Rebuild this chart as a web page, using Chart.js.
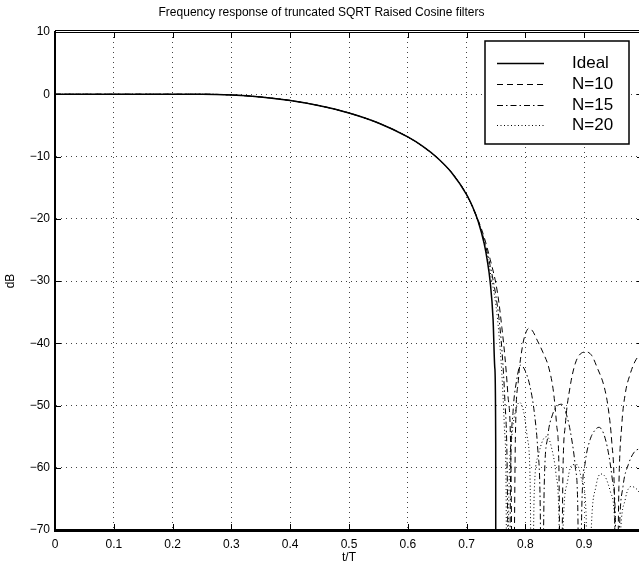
<!DOCTYPE html>
<html>
<head>
<meta charset="utf-8">
<script src="https://cdn.jsdelivr.net/npm/chart.js@4.4.1/dist/chart.umd.min.js"></script>
<style>
  html, body { margin: 0; padding: 0; background: #fff; overflow: hidden; }
  #wrap { width: 700px; height: 567px; }
</style>
</head>
<body>
<div id="wrap"><canvas id="freqChart" width="700" height="567"></canvas></div>
<script>
// passband, shared by all four curves (dB)
const passX = [0, 0.1, 0.2, 0.25, 0.3, 0.35, 0.4, 0.45, 0.5, 0.55, 0.6, 0.625, 0.65, 0.675, 0.7];
const passDb = [0, 0, 0, 0, -0.11, -0.44, -1.0, -1.84, -3.01, -4.62, -6.86, -8.34, -10.2, -12.64, -16.11];

// transition band / stopband of each curve
const idealX = [0.71, 0.72, 0.73, 0.735, 0.74, 0.745, 0.748, 0.7495, 0.75];
const idealDb = [-18.04, -20.53, -24.04, -26.6, -30.06, -36.08, -44.0, -56.1, -200];

const n10X = [0.72, 0.73, 0.74, 0.75, 0.755, 0.76, 0.765, 0.77, 0.775, 0.779, 0.783, 0.788, 0.795, 0.8, 0.806,
  0.812, 0.82, 0.83, 0.84, 0.848, 0.853, 0.857, 0.86, 0.864, 0.868, 0.876, 0.885, 0.895, 0.904, 0.913, 0.922,
  0.934, 0.941, 0.947, 0.951, 0.955, 0.959, 0.964, 0.97, 0.978, 0.986, 0.995, 1.0];
const n10Db = [-20.3, -23, -26.5, -30.5, -33.5, -37.5, -42, -48, -57, -90, -55, -46, -40.5, -38.5, -37.6,
  -38, -39.5, -41.5, -44, -48, -53, -60, -90, -60, -53, -47, -43.2, -41.6, -41.4, -42, -43.9,
  -47, -50.5, -56, -63, -90, -63, -53, -48, -45, -43, -41.8, -41.5];

const n15X = [0.72, 0.73, 0.74, 0.75, 0.755, 0.76, 0.765, 0.769, 0.772, 0.775, 0.779, 0.785, 0.792, 0.8, 0.808,
  0.815, 0.821, 0.825, 0.828, 0.832, 0.838, 0.846, 0.855, 0.862, 0.87, 0.878, 0.885, 0.889, 0.892, 0.896, 0.902,
  0.91, 0.918, 0.925, 0.933, 0.941, 0.948, 0.953, 0.956, 0.96, 0.966, 0.975, 0.985, 0.995, 1.0];
const n15Db = [-20.5, -23.5, -27.5, -32.5, -36, -41, -49, -60, -90, -60, -51, -46, -43.5, -44.5, -47,
  -51, -57, -65, -90, -63, -55, -51.5, -50, -49.8, -51.5, -55, -60, -66, -90, -66, -59,
  -55.5, -54, -53.5, -54.5, -57.5, -62, -68, -90, -70, -63, -59.5, -57.5, -57, -57];

const n20X = [0.72, 0.73, 0.74, 0.75, 0.755, 0.76, 0.764, 0.767, 0.769, 0.772, 0.777, 0.783, 0.79, 0.797, 0.803,
  0.808, 0.811, 0.815, 0.822, 0.83, 0.837, 0.845, 0.852, 0.857, 0.86, 0.864, 0.872, 0.88, 0.888, 0.896, 0.903,
  0.907, 0.912, 0.92, 0.928, 0.936, 0.945, 0.952, 0.956, 0.961, 0.97, 0.98, 0.99, 1.0];
const n20Db = [-20.5, -23.8, -28.5, -34, -38.5, -45, -53, -62, -90, -64, -55, -51, -49.5, -51, -55,
  -62, -90, -64, -58, -55.5, -55, -57, -61, -68, -90, -70, -62, -59.5, -59.5, -62, -67,
  -90, -70, -63, -61, -61.5, -64, -69, -90, -72, -65, -63, -63.5, -65];

const seriesNames = ["Ideal", "N=10", "N=15", "N=20"];
const titleText = "Frequency response of truncated SQRT Raised Cosine filters";

const FONT = "'Liberation Sans', Arial, sans-serif";
Chart.defaults.font.family = FONT;
Chart.defaults.color = "#000";

const toPoints = (xs, ys) => xs.map((x, i) => ({ x: x, y: ys[i] }));

const lineStyle = (label, xs, ys, dash, width) => ({
  label: label,
  data: toPoints(passX.concat(xs), passDb.concat(ys)),
  borderColor: "#000",
  borderWidth: width,
  borderDash: dash,
  pointRadius: 0,
  fill: false,
  cubicInterpolationMode: "monotone",
});

// box, inward ticks and legend, the matlab way
const frameAndLegend = {
  id: "frameAndLegend",
  afterDraw(chart) {
    const { ctx, chartArea: area, scales } = chart;
    ctx.save();
    ctx.strokeStyle = "#000";
    ctx.setLineDash([]);

    // top border
    ctx.lineWidth = 1;
    ctx.beginPath();
    ctx.moveTo(area.left, area.top - 1.5);
    ctx.lineTo(area.right, area.top - 1.5);
    ctx.moveTo(area.left, area.top + 0.5);
    ctx.lineTo(area.right, area.top + 0.5);
    ctx.stroke();

    // ticks pointing into the plot
    ctx.beginPath();
    scales.x.ticks.forEach((t) => {
      const px = Math.round(scales.x.getPixelForValue(t.value)) + 0.5;
      ctx.moveTo(px, area.bottom);
      ctx.lineTo(px, area.bottom - 6);
      ctx.moveTo(px, area.top);
      ctx.lineTo(px, area.top + 6);
    });
    scales.y.ticks.forEach((t) => {
      const py = Math.round(scales.y.getPixelForValue(t.value)) + 0.5;
      ctx.moveTo(area.left, py);
      ctx.lineTo(area.left + 6, py);
      ctx.moveTo(area.right, py);
      ctx.lineTo(area.right - 6, py);
    });
    ctx.stroke();

    // legend
    const box = { x: 485, y: 41, w: 144, h: 103 };
    ctx.fillStyle = "#fff";
    ctx.fillRect(box.x, box.y, box.w, box.h);
    ctx.lineWidth = 1.5;
    ctx.strokeRect(box.x, box.y, box.w, box.h);

    const rows = [63, 84, 105, 125];
    ctx.font = "17px " + FONT;
    ctx.textBaseline = "middle";
    ctx.fillStyle = "#000";
    chart.data.datasets.forEach((ds, i) => {
      ctx.lineWidth = ds.borderWidth;
      ctx.setLineDash(ds.borderDash);
      ctx.beginPath();
      ctx.moveTo(497, rows[i] + 0.5);
      ctx.lineTo(544, rows[i] + 0.5);
      ctx.stroke();
      ctx.fillText(ds.label, 572, rows[i]);
    });
    ctx.restore();
  },
};

const canvasElement = document.getElementById("freqChart");

const config = {
  type: "line",
  data: {
    datasets: [
      lineStyle(seriesNames[0], idealX, idealDb, [], 1.5),
      lineStyle(seriesNames[1], n10X, n10Db, [6, 4], 1),
      lineStyle(seriesNames[2], n15X, n15Db, [6, 3, 1.5, 3], 1),
      lineStyle(seriesNames[3], n20X, n20Db, [1, 2.5], 1),
    ],
  },
  options: {
    responsive: false,
    animation: false,
    layout: { padding: { top: 0, right: 57, left: 0, bottom: 0 } },
    plugins: {
      legend: { display: false },
      tooltip: { enabled: false },
      title: {
        display: true,
        text: titleText,
        color: "#000",
        font: { size: 12, weight: "normal" },
        padding: { top: 5, bottom: 12.6 },
      },
    },
    scales: {
      x: {
        type: "linear",
        min: 0,
        max: 1,
        afterFit: (scale) => { scale.height = 37; },
        ticks: {
          stepSize: 0.1,
          padding: 7,
          maxRotation: 0,
          font: { size: 12 },
          callback: (v) => (v === 0 ? "0" : (Math.round(v * 10) / 10).toString()),
        },
        grid: { color: "#444", lineWidth: 1, drawTicks: false },
        border: { color: "#000", width: 3, dash: [1, 4] },
        title: { display: true, text: "t/T", font: { size: 12 }, padding: { top: 0, bottom: 2 } },
      },
      y: {
        min: -70,
        max: 10,
        afterFit: (scale) => { scale.width = 55; },
        ticks: {
          stepSize: 10,
          padding: 5,
          font: { size: 12 },
          callback: (v) => (v < 0 ? "\u2212" + Math.abs(v) : String(v)),
        },
        grid: { color: "#444", lineWidth: 1, drawTicks: false },
        border: { color: "#000", width: 2, dash: [1, 4] },
        title: { display: true, text: "dB", font: { size: 12 }, padding: { top: 3, bottom: 0 } },
      },
    },
  },
  plugins: [frameAndLegend],
};

const freqChart = new Chart(canvasElement, config);
</script>
</body>
</html>
